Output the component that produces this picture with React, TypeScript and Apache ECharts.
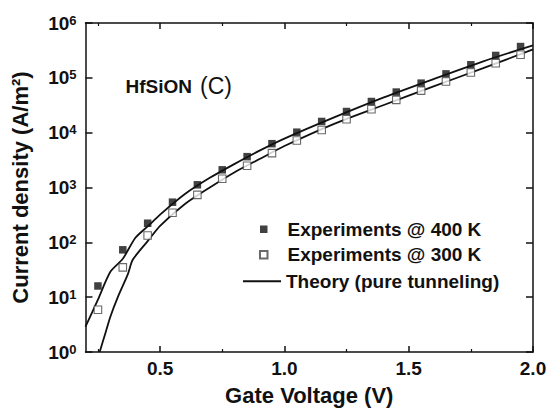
import React, { useEffect, useRef } from "react";
import * as echarts from "echarts";

const voltages = [0.25, 0.35, 0.45, 0.55, 0.65, 0.75, 0.85, 0.95, 1.05, 1.15, 1.25, 1.35, 1.45, 1.55, 1.65, 1.75, 1.85, 1.95];
const exp400 = [16, 73, 223, 540, 1120, 2100, 3650, 6300, 10200, 16000, 24300, 37000, 55000, 80000, 118000, 173000, 256000, 372000];
const exp300 = [5.9, 35, 133, 347, 733, 1440, 2500, 4230, 7200, 11200, 17600, 26800, 39600, 58500, 85800, 125000, 185000, 263000];

const theoryHighV = [0.2, 0.25, 0.3, 0.35, 0.4, 0.45, 0.5, 0.6, 0.7, 0.8, 0.9, 1.0, 1.2, 1.4, 1.6, 1.8, 2.0];
const theoryHighJ = [2.9, 9, 29, 50, 120, 195, 320, 760, 1500, 2700, 4700, 7800, 19000, 44000, 95000, 200000, 390000];
const theoryLowV = [0.257, 0.28, 0.3, 0.33, 0.37, 0.39, 0.45, 0.5, 0.6, 0.7, 0.8, 0.9, 1.0, 1.2, 1.4, 1.6, 1.8, 2.0];
const theoryLowJ = [1, 2.2, 4.4, 10, 26, 48, 105, 200, 500, 1000, 1900, 3300, 5700, 14500, 32000, 70000, 150000, 330000];

const xMajorTicks = [0.5, 1.0, 1.5, 2.0];
const xMinorTicks = [0.25, 0.75, 1.25, 1.75];

const NAME_400 = "Experiments @ 400 K";
const NAME_300 = "Experiments @ 300 K";
const NAME_TH = "Theory (pure tunneling)";

const FONT = "'Liberation Sans', Arial, Helvetica, sans-serif";

export default function App() {
  const ref = useRef<HTMLDivElement>(null);
  useEffect(() => {
    if (!ref.current) return;
    const chart = echarts.init(ref.current, null, { renderer: "svg" });
    const zip = (a: number[], b: number[]) => a.map((v, i) => [v, b[i]]);
    const axisLineStyle = { color: "#111", width: 1.5 };
    const hiddenX = {
      type: "value" as const,
      min: 0.2,
      max: 2.0,
      axisLabel: { show: false },
      splitLine: { show: false },
    };
    const legendText = { fontSize: 19, fontWeight: "bold", color: "#111", lineHeight: 25.5, fontFamily: FONT };
    const option: any = {
      animation: false,
      backgroundColor: "#fff",
      textStyle: { fontFamily: FONT },
      grid: { left: 85.5, right: 27, top: 23, bottom: 60, containLabel: false },
      legend: [
        {
          data: [NAME_400, NAME_300],
          orient: "vertical",
          left: 254,
          top: 211.5,
          itemWidth: 7.5,
          itemHeight: 7.5,
          itemGap: 0,
          selectedMode: false,
          textStyle: { ...legendText, padding: [0, 0, 0, 15] },
        },
        {
          data: [{ name: NAME_TH, icon: "rect" }],
          orient: "vertical",
          left: 238,
          top: 263.5,
          itemWidth: 38,
          itemHeight: 1.8,
          itemGap: 0,
          symbolKeepAspect: false,
          selectedMode: false,
          itemStyle: { color: "#111", borderWidth: 0 },
          textStyle: legendText,
        },
      ],
      xAxis: [
        {
          ...hiddenX,
          position: "bottom",
          name: "Gate Voltage (V)",
          nameLocation: "middle",
          nameGap: 32,
          nameTextStyle: { fontSize: 22, fontWeight: "bold", color: "#111", fontFamily: FONT },
          axisLine: { show: true, lineStyle: axisLineStyle },
          axisTick: { show: true, inside: true, length: 6, customValues: xMajorTicks, lineStyle: { color: "#111", width: 1.5 } },
          axisLabel: {
            show: true,
            customValues: xMajorTicks,
            margin: 7,
            fontSize: 19,
            fontWeight: "bold",
            color: "#111",
            fontFamily: FONT,
            formatter: (v: number) => v.toFixed(1),
          },
        },
        {
          ...hiddenX,
          position: "top",
          axisLine: { show: true, lineStyle: axisLineStyle },
          axisTick: { show: true, inside: true, length: 6, customValues: xMajorTicks, lineStyle: { color: "#111", width: 1.5 } },
        },
        {
          ...hiddenX,
          position: "bottom",
          axisLine: { show: false },
          axisTick: { show: true, inside: true, length: 3, customValues: xMinorTicks, lineStyle: { color: "#111", width: 1.2 } },
        },
        {
          ...hiddenX,
          position: "top",
          axisLine: { show: false },
          axisTick: { show: true, inside: true, length: 3, customValues: xMinorTicks, lineStyle: { color: "#111", width: 1.2 } },
        },
      ],
      yAxis: [
        {
          type: "log",
          logBase: 10,
          min: 1,
          max: 1000000,
          position: "left",
          name: "Current density (A/m\u00B2)",
          nameLocation: "middle",
          nameGap: 54,
          nameTextStyle: { fontSize: 22, fontWeight: "bold", color: "#111", fontFamily: FONT },
          axisLine: { show: true, lineStyle: axisLineStyle },
          axisTick: { show: true, inside: true, length: 7, lineStyle: { color: "#111", width: 1.5 } },
          splitLine: { show: false },
          minorTick: { show: false },
          axisLabel: {
            margin: 9,
            color: "#111",
            fontFamily: FONT,
            formatter: (v: number) => `{b|10}{s|${Math.round(Math.log10(v))}}`,
            rich: {
              b: { fontSize: 19, fontWeight: "bold", color: "#111", lineHeight: 19, verticalAlign: "bottom", fontFamily: FONT },
              s: { fontSize: 13, fontWeight: "bold", color: "#111", lineHeight: 13, padding: [0, 0, 14, 0], verticalAlign: "top", fontFamily: FONT },
            },
          },
        },
        {
          type: "log",
          logBase: 10,
          min: 1,
          max: 1000000,
          position: "right",
          axisLine: { show: true, lineStyle: axisLineStyle },
          axisTick: { show: true, inside: true, length: 7, lineStyle: { color: "#111", width: 1.5 } },
          axisLabel: { show: false },
          splitLine: { show: false },
        },
      ],
      graphic: [
        {
          type: "text",
          left: 125.5,
          top: 77,
          style: { text: "HfSiON", font: `bold 19px ${FONT}`, fill: "#111" },
        },
        {
          type: "text",
          left: 200,
          top: 74,
          style: { text: "(C)", font: `normal 23px ${FONT}`, fill: "#111" },
        },
      ],
      series: [
        {
          name: NAME_TH,
          type: "line",
          data: zip(theoryHighV, theoryHighJ),
          symbol: "none",
          showSymbol: false,
          smooth: 0.25,
          lineStyle: { color: "#111", width: 1.8 },
          itemStyle: { color: "#111" },
          z: 2,
        },
        {
          name: NAME_TH,
          type: "line",
          data: zip(theoryLowV, theoryLowJ),
          symbol: "none",
          showSymbol: false,
          smooth: 0.25,
          lineStyle: { color: "#111", width: 1.8 },
          itemStyle: { color: "#111" },
          z: 2,
        },
        {
          name: NAME_400,
          type: "scatter",
          data: zip(voltages, exp400),
          symbol: "rect",
          symbolSize: 7.5,
          itemStyle: { color: "#111" },
          z: 3,
        },
        {
          name: NAME_300,
          type: "scatter",
          data: zip(voltages, exp300),
          symbol: "rect",
          symbolSize: 7.5,
          itemStyle: { color: "#fff", borderColor: "#444", borderWidth: 1.1 },
          z: 3,
        },
      ],
    };
    chart.setOption(option);
    return () => chart.dispose();
  }, []);
  return <div ref={ref} style={{ position: "fixed", left: 0, top: 0, width: 560, height: 412, background: "#fff" }} />;
}
